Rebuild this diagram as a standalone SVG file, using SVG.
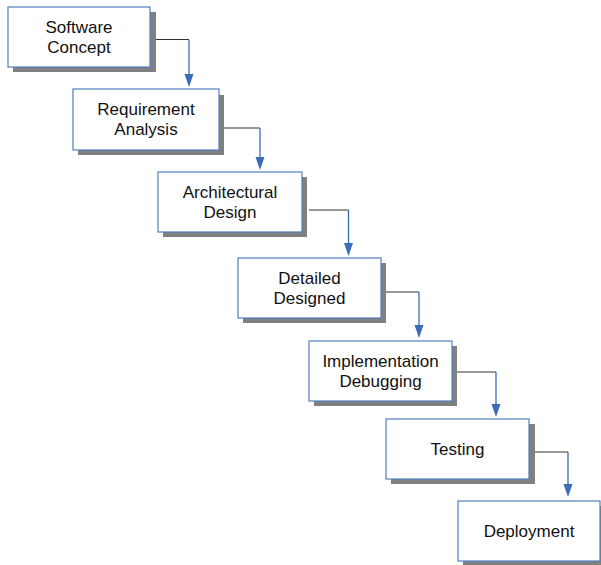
<svg xmlns="http://www.w3.org/2000/svg" width="601" height="565" viewBox="0 0 601 565">
<style>
.sh{fill:#808080}
.bx{fill:#fff;stroke:#4f7fc0;stroke-width:1.2}
.t{font-family:"Liberation Sans",Arial,sans-serif;font-size:17px;fill:#111;text-anchor:middle}
.h{fill:none;stroke:#333;stroke-width:1.2}
.v{fill:none;stroke:#3a6db5;stroke-width:1.3}
.ah{fill:#3a6db5}
</style>
<rect width="601" height="565" fill="#fff"/>
<g id="connectors">
  <path class="h" d="M150 39.5H189"/><path class="v" d="M189 39.5V76"/><path class="ah" d="M184.5 74H193.5L189 87Z"/>
  <path class="h" d="M219 128H260"/><path class="v" d="M260 128V159"/><path class="ah" d="M255.5 157H264.5L260 170Z"/>
  <path class="h" d="M309 210H348.5"/><path class="v" d="M348.5 210V245"/><path class="ah" d="M344 243H353L348.5 256Z"/>
  <path class="h" d="M381 292H419"/><path class="v" d="M419 292V327"/><path class="ah" d="M414.5 325H423.5L419 338Z"/>
  <path class="h" d="M457 372H496"/><path class="v" d="M496 372V406"/><path class="ah" d="M491.5 404H500.5L496 417Z"/>
  <path class="h" d="M529 452H568"/><path class="v" d="M568 452V486"/><path class="ah" d="M563.5 484H572.5L568 497Z"/>
</g>
<g id="n1"><rect class="sh" x="13" y="12" width="143" height="60"/><rect class="bx" x="8" y="7" width="142" height="60"/>
<text class="t" x="79" y="33">Software</text><text class="t" x="79" y="53">Concept</text></g>
<g id="n2"><rect class="sh" x="78" y="95" width="146" height="60"/><rect class="bx" x="73" y="89" width="146" height="61"/>
<text class="t" x="146" y="115">Requirement</text><text class="t" x="146" y="135">Analysis</text></g>
<g id="n3"><rect class="sh" x="163" y="177" width="144" height="60"/><rect class="bx" x="158" y="172" width="144" height="60"/>
<text class="t" x="230" y="198">Architectural</text><text class="t" x="230" y="218">Design</text></g>
<g id="n4"><rect class="sh" x="243" y="263" width="143" height="60"/><rect class="bx" x="238" y="258" width="143" height="60"/>
<text class="t" x="309.5" y="284">Detailed</text><text class="t" x="309.5" y="304">Designed</text></g>
<g id="n5"><rect class="sh" x="314" y="346" width="143" height="60"/><rect class="bx" x="309" y="341" width="143" height="60"/>
<text class="t" x="380.5" y="367">Implementation</text><text class="t" x="380.5" y="387">Debugging</text></g>
<g id="n6"><rect class="sh" x="391" y="424" width="144" height="60"/><rect class="bx" x="386" y="419" width="143" height="60"/>
<text class="t" x="457.5" y="455">Testing</text></g>
<g id="n7"><rect class="sh" x="463" y="506" width="143" height="60"/><rect class="bx" x="458" y="501" width="142" height="60"/>
<text class="t" x="529" y="537">Deployment</text></g>
</svg>
